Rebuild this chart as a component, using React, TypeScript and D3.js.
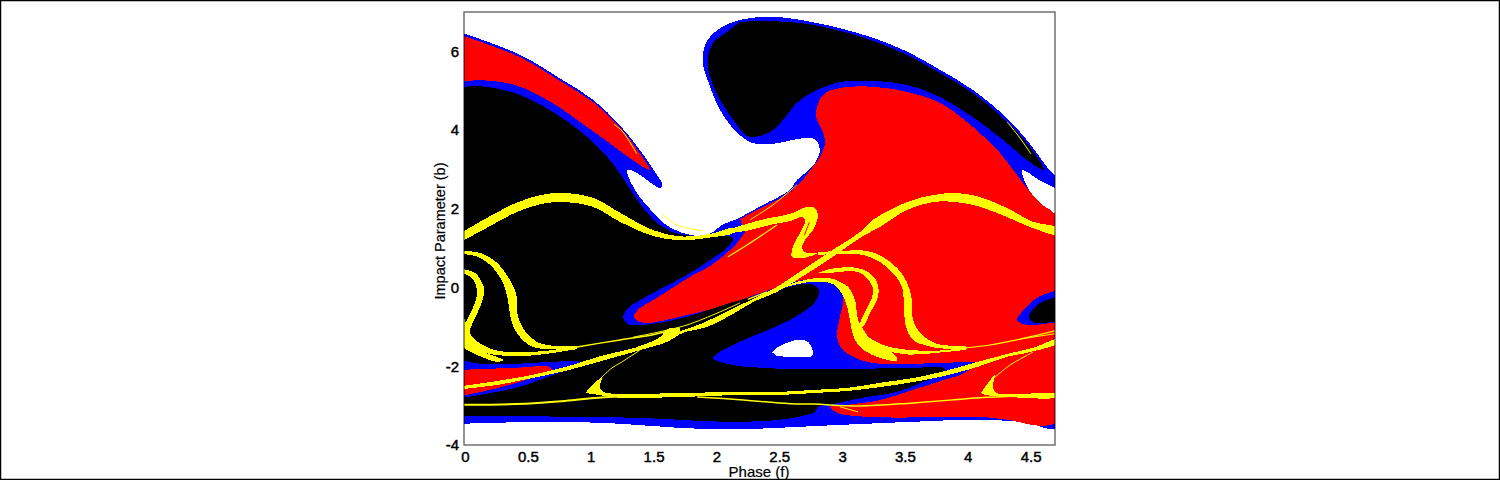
import { useEffect, useRef } from 'react';
import * as d3 from 'd3';

type Pt = [number, number];

const xTicks = [0, 0.5, 1, 1.5, 2, 2.5, 3, 3.5, 4, 4.5];
const yTicks = [-4, -2, 0, 2, 4, 6];

// outcome regions, [phase, impact parameter]
const blueBasin: Pt[] = [
  [-0.02, 6.47], [0.44, 5.91], [0.756, 5.31], [1.02, 4.77], [1.23, 4.13], [1.39, 3.5], [1.5, 2.99], [1.57, 2.61],
  [1.55, 2.53], [1.47, 2.68], [1.37, 2.91], [1.29, 2.99], [1.3, 2.81], [1.39, 2.3], [1.5, 1.9], [1.58, 1.64],
  [1.71, 1.41], [1.89, 1.31], [1.973, 1.41], [2.045, 1.59], [2.148, 1.72], [2.228, 1.85], [2.37, 2.1], [2.586, 2.48],
  [2.64, 2.73], [2.76, 3.06], [2.82, 3.41], [2.81, 3.67], [2.76, 3.8], [2.64, 3.77], [2.45, 3.65], [2.29, 3.67],
  [2.16, 3.95], [2.03, 4.51], [1.93, 5.28], [1.89, 5.78], [1.93, 6.29], [2.03, 6.59], [2.19, 6.8], [2.43, 6.88],
  [2.72, 6.77], [2.98, 6.59], [3.25, 6.34], [3.52, 5.99], [3.78, 5.53], [4.04, 5.02], [4.31, 4.31], [4.49, 3.67],
  [4.63, 3.06], [4.72, 2.73], [4.72, 2.53], [4.57, 2.73], [4.47, 2.94], [4.43, 2.99], [4.44, 2.81], [4.52, 2.3],
  [4.63, 1.97], [4.72, 1.79], [4.72, -3.54], [4.44, -3.41], [4.04, -3.36], [3.57, -3.41], [2.98, -3.49], [2.45, -3.57],
  [2.19, -3.6], [1.73, -3.57], [1.23, -3.46], [0.7, -3.41], [-0.02, -3.46],
];

const redCap: Pt[] = [
  [-0.02, 6.4], [0.44, 5.85], [0.756, 5.25], [1.02, 4.71], [1.23, 4.08], [1.37, 3.5], [1.47, 2.99],
  [1.31, 3.29], [1.15, 3.67], [0.97, 4.08], [0.7, 4.68], [0.44, 5.1], [0.22, 5.25], [-0.02, 5.25],
];

const blackUpper: Pt[] = [
  [2.188, 6.75], [2.426, 6.77], [2.721, 6.7], [2.983, 6.52], [3.246, 6.27], [3.516, 5.91], [3.779, 5.45], [4.041, 4.94],
  [4.312, 4.21], [4.495, 3.57], [4.606, 2.99], [4.471, 3.24], [4.312, 3.67], [4.041, 4.33], [3.779, 4.84], [3.516, 5.15],
  [3.246, 5.25], [2.983, 5.22], [2.768, 4.97], [2.641, 4.69], [2.53, 4.26], [2.45, 4.0], [2.347, 3.85], [2.243, 3.85],
  [2.164, 4.13], [2.029, 4.77], [1.949, 5.35], [1.933, 5.86], [1.973, 6.21], [2.084, 6.49],
];

const redMain: Pt[] = [
  [2.188, 1.74], [2.291, 1.92], [2.45, 2.17], [2.609, 2.48], [2.761, 3.04], [2.824, 3.32], [2.864, 3.67], [2.848, 3.95],
  [2.792, 4.39], [2.848, 4.89], [2.983, 5.07], [3.246, 5.1], [3.516, 4.97], [3.779, 4.69], [4.041, 4.08], [4.256, 3.42],
  [4.439, 2.66], [4.574, 2.15], [4.72, 1.74], [4.72, -3.39], [4.28, -3.34], [4.121, -3.29], [3.858, -3.29], [3.246, -3.29],
  [2.967, -3.19], [2.904, -3.03], [3.039, -2.98], [3.301, -2.86], [3.564, -2.6], [3.858, -2.3], [3.938, -2.22], [4.073, -1.92],
  [3.779, -1.92], [3.437, -1.94], [3.198, -1.89], [3.007, -1.59], [2.959, -1.26], [2.983, -0.75], [3.007, -0.24], [2.928, 0.17],
  [2.768, 0.22], [2.586, 0.12], [2.426, -0.06], [2.188, -0.32], [2.148, -0.37], [2.029, -0.49], [1.766, -0.7], [1.527, -0.87],
  [1.416, -0.9], [1.344, -0.75], [1.392, -0.52], [1.496, -0.32], [1.79, 0.27], [1.949, 0.55], [2.084, 0.88], [2.164, 1.13], [2.228, 1.41],
];

const blackMain: Pt[] = [
  [-0.02, 5.1], [0.17, 5.1], [0.44, 4.89], [0.7, 4.46], [0.97, 3.83], [1.13, 3.32], [1.23, 2.91], [1.37, 2.23],
  [1.5, 1.72], [1.65, 1.41], [1.85, 1.3], [2.132, 1.26], [2.084, 1.01], [1.949, 0.7], [1.79, 0.37], [1.392, -0.32],
  [1.297, -0.52], [1.257, -0.77], [1.289, -0.92], [1.392, -0.95], [1.631, -0.85], [1.893, -0.62], [2.108, -0.39], [2.188, -0.32],
  [2.482, -0.06], [2.745, 0.09], [2.816, -0.06], [2.784, -0.37], [2.586, -0.82], [2.371, -1.13], [2.164, -1.41], [1.973, -1.79],
  [2.132, -1.97], [2.371, -2.04], [2.586, -2.07], [3.039, -2.07], [3.564, -2.04], [3.803, -2.04], [3.819, -2.12], [3.803, -2.17],
  [3.644, -2.4], [3.437, -2.65], [3.166, -2.8], [2.904, -2.98], [2.808, -3.03], [2.784, -3.16], [2.641, -3.29], [2.506, -3.36],
  [2.188, -3.41], [1.893, -3.39], [1.368, -3.31], [-0.02, -3.26],
];

const whiteSpot: Pt[] = [
  [2.442, -1.64], [2.506, -1.48], [2.649, -1.33], [2.729, -1.38], [2.768, -1.64], [2.761, -1.74], [2.586, -1.76], [2.482, -1.74],
];

const blueLeft: Pt[] = [
  [-0.02, -1.84], [0.08, -1.92], [0.4, -1.94], [0.66, -1.89], [0.93, -1.89], [0.939, -1.92], [0.66, -2.27], [0.4, -2.55], [-0.02, -2.8],
];
const redLeft: Pt[] = [
  [-0.02, -2.09], [0.4, -2.04], [0.676, -2.02], [0.692, -2.12], [0.533, -2.3], [0.263, -2.55], [-0.02, -2.75],
];

const blueRight: Pt[] = [
  [4.72, -0.06], [4.551, -0.26], [4.431, -0.62], [4.391, -0.82], [4.431, -0.92], [4.519, -0.95], [4.72, -0.87],
];
const blackRight: Pt[] = [
  [4.72, -0.24], [4.574, -0.39], [4.487, -0.75], [4.535, -0.9], [4.72, -0.85],
];

// yellow ribbons, outlined on both edges
const yellowHump: Pt[] = [
  [-0.02, 1.41], [0.175, 1.77], [0.4, 2.14], [0.6, 2.35], [0.78, 2.4], [1.018, 2.28], [1.233, 1.9], [1.496, 1.46], [1.71, 1.3], [1.949, 1.36], [2.132, 1.51],
  [2.132, 1.39], [1.949, 1.27], [1.71, 1.2], [1.496, 1.31], [1.233, 1.67], [1.018, 2.05], [0.78, 2.17], [0.6, 2.12], [0.4, 1.9], [0.175, 1.52], [-0.02, 1.18],
];
const yellowFold: Pt[] = [
  [2.132, 1.51], [2.267, 1.64], [2.426, 1.77], [2.586, 1.87], [2.721, 2.05], [2.784, 2.02], [2.808, 1.84], [2.768, 1.46], [2.705, 1.21], [2.681, 1.01], [2.705, 0.9], [2.808, 0.88],
  [2.689, 0.75], [2.601, 0.78], [2.609, 1.03], [2.665, 1.39], [2.705, 1.67], [2.689, 1.79], [2.586, 1.69], [2.426, 1.59], [2.267, 1.46], [2.132, 1.39],
];
const yellowLong: Pt[] = [
  [-0.02, -2.5], [0.263, -2.37], [0.533, -2.22], [0.796, -2.02], [1.114, -1.71], [1.352, -1.53], [1.575, -1.26], [1.893, -0.9], [2.108, -0.57], [2.323, -0.24], [2.482, 0.02],
  [2.689, 0.45], [2.928, 0.96], [3.142, 1.41], [3.246, 1.72], [3.516, 2.17], [3.723, 2.35], [3.914, 2.4], [4.097, 2.3], [4.312, 2.02], [4.519, 1.67], [4.72, 1.51],
  [4.72, 1.34], [4.519, 1.51], [4.312, 1.79], [4.097, 2.05], [3.914, 2.17], [3.723, 2.17], [3.516, 1.97], [3.301, 1.54], [3.142, 1.26], [2.928, 0.78], [2.705, 0.32], [2.482, -0.11],
  [2.291, -0.37], [2.132, -0.67], [1.925, -1.0], [1.734, -1.15], [1.607, -1.38], [1.392, -1.59], [1.114, -1.84], [0.796, -2.12], [0.533, -2.3], [0.263, -2.47], [-0.02, -2.58],
];
const yellowSpur: Pt[] = [
  [1.71, -1.05], [1.615, -1.05], [1.551, -1.26], [1.392, -1.53], [1.551, -1.33], [1.71, -1.13],
];
const yellowLower: Pt[] = [
  [0.955, -2.68], [1.058, -2.35], [1.09, -2.27], [1.074, -2.53], [1.098, -2.65], [1.233, -2.7], [1.71, -2.68], [2.188, -2.65], [2.506, -2.65], [2.768, -2.6], [3.039, -2.55],
  [3.301, -2.42], [3.564, -2.3], [3.819, -2.12], [4.041, -1.92], [4.312, -1.69], [4.519, -1.53], [4.72, -1.31], [4.72, -1.41], [4.495, -1.64], [4.312, -1.76], [4.073, -2.02],
  [3.779, -2.27], [3.564, -2.4], [3.301, -2.53], [3.039, -2.63], [2.768, -2.68], [2.506, -2.73], [2.188, -2.73], [1.71, -2.78], [1.233, -2.8], [1.01, -2.7],
];
const yellowHookRight: Pt[] = [
  [4.105, -2.68], [4.216, -2.22], [4.2, -2.53], [4.232, -2.68], [4.72, -2.7], [4.72, -2.78], [4.312, -2.78], [4.137, -2.73],
];
const yellowLeftOuter: Pt[] = [
  [-0.02, 0.93], [0.119, 0.88], [0.255, 0.63], [0.342, 0.27], [0.406, -0.14], [0.414, -0.62], [0.461, -1.03], [0.573, -1.38], [0.7, -1.48], [0.891, -1.51],
  [0.891, -1.56], [0.7, -1.56], [0.541, -1.51], [0.422, -1.2], [0.366, -0.82], [0.342, -0.32], [0.302, 0.12], [0.223, 0.5], [0.103, 0.78], [-0.02, 0.85],
];
const yellowLeftInner: Pt[] = [
  [-0.02, 0.47], [0.08, 0.37], [0.151, -0.01], [0.135, -0.37], [0.08, -0.77], [0.04, -1.15], [0.103, -1.38], [0.239, -1.59], [0.438, -1.64], [0.7, -1.59], [0.891, -1.48],
  [0.891, -1.53], [0.7, -1.66], [0.438, -1.74], [0.199, -1.69], [0.08, -1.56], [0.008, -1.28], [-0.02, -1.08], [0.024, -0.77], [0.08, -0.39], [0.095, -0.06], [0.056, 0.24], [-0.02, 0.37],
];
const yellowLeftTail: Pt[] = [
  [-0.02, -0.52], [0.008, -1.0], [0.04, -1.41], [0.143, -1.63], [0.302, -1.84], [0.263, -1.89], [0.095, -1.71], [-0.02, -1.52],
];
const yellowRightOuter: Pt[] = [
  [2.808, 0.9], [2.983, 0.93], [3.198, 0.93], [3.325, 0.78], [3.437, 0.5], [3.516, 0.14], [3.556, -0.32], [3.564, -0.82], [3.62, -1.15], [3.755, -1.43], [3.994, -1.51],
  [3.994, -1.54], [3.803, -1.55], [3.675, -1.48], [3.564, -1.33], [3.508, -1.0], [3.492, -0.49], [3.477, 0.02], [3.405, 0.37], [3.301, 0.65], [3.166, 0.83], [2.983, 0.85], [2.808, 0.83],
];
const yellowRightLoop: Pt[] = [
  [2.808, 0.37], [2.904, 0.47], [3.119, 0.5], [3.238, 0.32], [3.286, 0.07], [3.286, -0.24], [3.222, -0.65], [3.166, -1.0],
  [3.142, -0.95], [3.182, -0.62], [3.238, -0.26], [3.246, -0.01], [3.198, 0.24], [3.119, 0.4], [2.904, 0.37],
];
const yellowRightInner: Pt[] = [
  [2.403, -0.11], [2.586, 0.09], [2.745, 0.22], [2.904, 0.24], [2.983, 0.14], [3.047, 0.02], [3.103, -0.32], [3.127, -0.82], [3.182, -1.13], [3.246, -1.38], [3.357, -1.56], [3.437, -1.79],
  [3.437, -1.86], [3.238, -1.71], [3.127, -1.46], [3.079, -1.13], [3.063, -0.82], [3.023, -0.32], [2.967, -0.01], [2.904, 0.12], [2.745, 0.14], [2.586, 0.04],
];
const yellowRightTail: Pt[] = [
  [3.222, -1.28], [3.325, -1.46], [3.516, -1.58], [3.779, -1.6], [3.994, -1.54], [3.994, -1.56], [3.779, -1.65], [3.516, -1.7], [3.341, -1.59], [3.238, -1.46],
];

// hairlines
const hairCap: Pt[] = [[1.185, 4.15], [1.257, 3.95], [1.368, 3.39]];
const hairUpper: Pt[] = [[4.312, 4.21], [4.415, 3.8], [4.503, 3.39]];
const hairValley: Pt[] = [[1.567, 1.87], [1.687, 1.59], [1.893, 1.44]];
const hairEdge: Pt[] = [[2.267, 1.72], [2.45, 2.1], [2.641, 2.61]];
const hairFold: Pt[] = [[2.092, 0.78], [2.243, 1.08], [2.482, 1.59]];
const hairMidA: Pt[] = [[0.891, -1.51], [1.233, -1.33], [1.496, -1.2], [1.71, -1.03]];
const hairMidB: Pt[] = [[1.336, -1.26], [1.766, -0.95], [2.188, -0.39]];
const hairLens: Pt[] = [[2.25, -0.3], [2.403, -0.11]];
const hairHook: Pt[] = [[1.09, -2.27], [1.17, -2.04], [1.233, -1.92], [1.392, -1.59]];
const hairBottom: Pt[] = [[-0.02, -2.98], [0.4, -2.96], [0.796, -2.88], [1.058, -2.8], [1.352, -2.75]];
const hairThin: Pt[] = [[1.847, -2.78], [2.188, -2.85], [2.586, -2.95], [2.768, -2.96], [3.142, -3.01], [3.564, -2.93], [3.858, -2.86], [4.097, -2.8], [4.574, -2.75]];
const hairRed: Pt[] = [[2.983, -3.03], [3.127, -3.16]];
const hairHookRight: Pt[] = [[4.216, -2.28], [4.336, -1.97], [4.519, -1.64]];
const hairRightA: Pt[] = [[3.994, -1.53], [4.176, -1.46], [4.415, -1.31], [4.72, -1.08]];
const hairRightB: Pt[] = [[4.415, -1.31], [4.72, -1.16]];
const slitFold: Pt[] = [[2.74, 1.66], [2.70, 1.33]];

const regions: [Pt[], string][] = [
  [blueBasin, '#0000ff'],
  [redCap, '#ff0000'],
  [blackUpper, '#000000'],
  [redMain, '#ff0000'],
  [blackMain, '#000000'],
  [whiteSpot, '#ffffff'],
  [blueLeft, '#0000ff'],
  [redLeft, '#ff0000'],
  [blueRight, '#0000ff'],
  [blackRight, '#000000'],
  [yellowHump, '#ffff00'],
  [yellowFold, '#ffff00'],
  [yellowLong, '#ffff00'],
  [yellowSpur, '#ffff00'],
  [yellowLower, '#ffff00'],
  [yellowHookRight, '#ffff00'],
  [yellowLeftOuter, '#ffff00'],
  [yellowLeftInner, '#ffff00'],
  [yellowLeftTail, '#ffff00'],
  [yellowRightOuter, '#ffff00'],
  [yellowRightLoop, '#ffff00'],
  [yellowRightInner, '#ffff00'],
  [yellowRightTail, '#ffff00'],
];

const hairlines: [Pt[], number, string][] = [
  [hairCap, 1, '#ffff00'], [hairUpper, 1, '#ffff00'], [hairValley, 1, '#ffff00'], [hairEdge, 1, '#ffff00'], [hairFold, 1.1, '#ffff00'],
  [hairMidA, 1.5, '#ffff00'], [hairMidB, 1, '#ffff00'], [hairLens, 1.5, '#ffff00'], [hairHook, 1, '#ffff00'], [hairBottom, 2, '#ffff00'],
  [hairThin, 1.5, '#ffff00'], [hairRed, 1, '#ffff00'], [hairHookRight, 1, '#ffff00'], [hairRightA, 1.2, '#ffff00'], [hairRightB, 1, '#ffff00'],
  [slitFold, 1, '#ff0000'],
];

const fontFamily = '"Liberation Sans", Arial, sans-serif';

export default function App() {
  const svgRef = useRef<SVGSVGElement>(null);

  useEffect(() => {
    if (!svgRef.current) return;

    const svg = d3.select(svgRef.current);
    svg.selectAll('*').remove();

    const width = 1500;
    const height = 480;

    const xScale = d3.scaleLinear().domain([0, 4.694]).range([465, 1055]);
    const yScale = d3.scaleLinear().domain([-4, 7]).range([445, 12]);

    svg.append('rect')
      .attr('width', width)
      .attr('height', height)
      .attr('fill', '#fff');

    svg.append('defs').append('clipPath')
      .attr('id', 'plot-area')
      .append('rect')
      .attr('x', 464)
      .attr('y', 12)
      .attr('width', 591)
      .attr('height', 433);

    const line = d3.line<Pt>()
      .x(d => xScale(d[0]))
      .y(d => yScale(d[1]))
      .curve(d3.curveCatmullRom.alpha(0.5));

    const plot = svg.append('g').attr('clip-path', 'url(#plot-area)');

    regions.forEach(([pts, color]) => {
      plot.append('path')
        .attr('d', line(pts) + 'Z')
        .attr('fill', color)
        .attr('shape-rendering', 'crispEdges');
    });

    hairlines.forEach(([pts, w, color]) => {
      plot.append('path')
        .attr('d', line(pts))
        .attr('fill', 'none')
        .attr('stroke', color)
        .attr('stroke-width', w);
    });

    // Frame
    svg.append('rect')
      .attr('x', 464)
      .attr('y', 12)
      .attr('width', 591)
      .attr('height', 433)
      .attr('fill', 'none')
      .attr('stroke', '#000')
      .attr('stroke-opacity', 0.6)
      .attr('stroke-width', 1.4);

    // X-axis
    const xAxis = d3.axisBottom(xScale)
      .tickValues(xTicks)
      .tickSize(0)
      .tickPadding(6)
      .tickFormat(d => `${d}`);

    const gx = svg.append('g')
      .attr('transform', 'translate(0,445)')
      .call(xAxis);
    gx.select('.domain').remove();

    // Y-axis
    const yAxis = d3.axisLeft(yScale)
      .tickValues(yTicks)
      .tickSize(0)
      .tickPadding(5)
      .tickFormat(d => `${d}`);

    const gy = svg.append('g')
      .attr('transform', 'translate(464,0)')
      .call(yAxis);
    gy.select('.domain').remove();

    svg.selectAll('.tick text')
      .style('font-family', fontFamily)
      .style('font-size', '15px')
      .style('font-weight', '400')
      .attr('fill', '#000')
      .attr('stroke', '#000')
      .attr('stroke-width', 0.45);

    // Labels
    svg.append('text')
      .attr('x', 759)
      .attr('y', 477)
      .attr('text-anchor', 'middle')
      .attr('stroke', '#000')
      .attr('stroke-width', 0.2)
      .style('font-family', fontFamily)
      .style('font-size', '15px')
      .text('Phase (f)');

    svg.append('text')
      .attr('transform', 'translate(445,231) rotate(-90)')
      .attr('text-anchor', 'middle')
      .attr('stroke', '#000')
      .attr('stroke-width', 0.2)
      .style('font-family', fontFamily)
      .style('font-size', '14.5px')
      .text('Impact Parameter (b)');

    // Outer border of the picture
    svg.append('rect')
      .attr('x', 0.5)
      .attr('y', 0.5)
      .attr('width', width - 1)
      .attr('height', height - 1)
      .attr('fill', 'none')
      .attr('stroke', '#000')
      .attr('stroke-width', 1.5);
  }, []);

  return (
    <svg
      ref={svgRef}
      width={1500}
      height={480}
      style={{ position: 'absolute', left: 0, top: 0, display: 'block' }}
    />
  );
}
